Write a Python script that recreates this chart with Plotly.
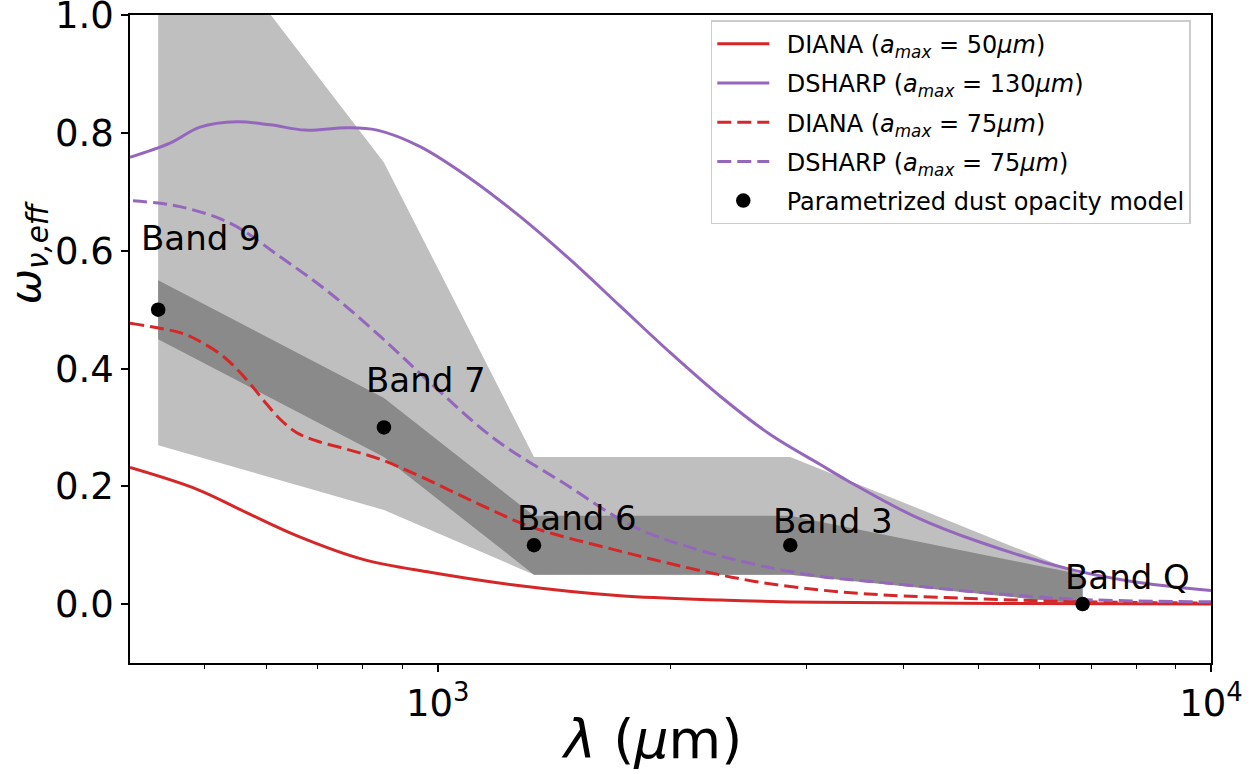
import math
import plotly.graph_objects as go

# ---------------- data ----------------
# DIANA, a_max = 50 um (solid red)
diana50_wl = [400, 488.4, 566.8, 658, 800.7, 977.7, 1278.5, 1721.9, 2319, 3124, 5341, 10000]
diana50_w = [0.232, 0.195, 0.155, 0.116, 0.076, 0.054, 0.031, 0.014, 0.007, 0.003, 0.001, 0.0]

# DSHARP, a_max = 130 um (solid purple)
dsharp130_wl = [400, 450.6, 492.8, 550.2, 607.2, 673.8, 763.5, 834.8, 948.8, 1101.5, 1278.5,
                1483.8, 1721.9, 1998.8, 2319, 2691.5, 3124, 3385, 4121, 5031, 6579, 7866, 10000]
dsharp130_w = [0.759, 0.783, 0.810, 0.819, 0.814, 0.805, 0.809, 0.805, 0.777, 0.723, 0.658,
               0.585, 0.506, 0.427, 0.353, 0.288, 0.237, 0.210, 0.150, 0.105, 0.059, 0.039, 0.023]

# DIANA, a_max = 75 um (dashed red)
diana75_wl = [400, 464.2, 488, 527.8, 566.2, 594.6, 625.5, 657.4, 697.7, 762.9, 842.3, 948.8,
              1134, 1328, 1686, 2102, 2559, 3124, 3735, 5031, 6778, 10000]
diana75_w = [0.477, 0.461, 0.449, 0.421, 0.381, 0.347, 0.314, 0.291, 0.277, 0.263, 0.246, 0.217,
             0.169, 0.130, 0.093, 0.062, 0.039, 0.024, 0.016, 0.009, 0.004, 0.002]

# DSHARP, a_max = 75 um (dashed purple)
dsharp75_wl = [403.6, 464.2, 538.8, 625.5, 725.8, 842.3, 977.7, 1186, 1453, 1789, 2102, 2559,
               3124, 3735, 5031, 6778, 10000]
dsharp75_w = [0.685, 0.675, 0.647, 0.590, 0.528, 0.455, 0.376, 0.280, 0.206, 0.132, 0.098, 0.068,
              0.047, 0.037, 0.020, 0.008, 0.004]

# Parametrized model at observed bands
band_names = ["Band 9", "Band 7", "Band 6", "Band 3", "Band Q"]
band_wl = [435, 852, 1332, 2857, 6823]
band_w = [0.5, 0.3, 0.1, 0.1, 0.0]
dark_lo = [0.45, 0.25, 0.05, 0.05, 0.0]
dark_hi = [0.55, 0.35, 0.15, 0.15, 0.05]
light_lo = [0.27, 0.16, 0.05, 0.05, 0.0]
light_hi = [1.25, 0.75, 0.25, 0.25, 0.05]
label_wl = [w * 0.955 for w in band_wl]
label_w = [0.622, 0.381, 0.146, 0.141, 0.046]

x_major = [1000, 10000]
x_major_text = ["10<sup>3</sup>", "10<sup>4</sup>"]
x_minor = [500, 600, 700, 800, 900, 2000, 3000, 4000, 5000, 6000, 7000, 8000, 9000]
y_ticks = [0.0, 0.2, 0.4, 0.6, 0.8, 1.0]

# ---------------- figure ----------------
RED = "#d62728"
PURPLE = "#9467bd"
FONT = "DejaVu Sans"
PAD = "\u00a0\u2009"

fig = go.Figure()

fig.add_trace(go.Scatter(
    x=band_wl + band_wl[::-1], y=light_hi + light_lo[::-1],
    fill="toself", fillcolor="#bfbfbf", line=dict(width=0), mode="lines",
    showlegend=False, hoverinfo="skip"))
fig.add_trace(go.Scatter(
    x=band_wl + band_wl[::-1], y=dark_hi + dark_lo[::-1],
    fill="toself", fillcolor="#8a8a8a", line=dict(width=0), mode="lines",
    showlegend=False, hoverinfo="skip"))

def line(x, y, name, color, dash, rank):
    fig.add_trace(go.Scatter(
        x=x, y=y, mode="lines", name=PAD + name, legendrank=rank, legendgroup=name,
        line=dict(color=color, width=3, dash=dash, shape="spline", smoothing=1.0)))

line(diana50_wl, diana50_w, "DIANA (<i>a</i><sub><i>max</i></sub> = 50<i>μm</i>)", RED, "solid", 1)
line(dsharp130_wl, dsharp130_w, "DSHARP (<i>a</i><sub><i>max</i></sub> = 130<i>μm</i>)", PURPLE, "solid", 2)
line(diana75_wl, diana75_w, "DIANA (<i>a</i><sub><i>max</i></sub> = 75<i>μm</i>)", RED, "14px,6px", 3)
line(dsharp75_wl, dsharp75_w, "DSHARP (<i>a</i><sub><i>max</i></sub> = 75<i>μm</i>)", PURPLE, "14px,6px", 4)

fig.add_trace(go.Scatter(
    x=band_wl, y=band_w, mode="markers", name=PAD + "Parametrized dust opacity model",
    legendrank=5, legendgroup="param",
    marker=dict(color="black", size=14.5, line=dict(width=0)), cliponaxis=False))

for n, xw, yw in zip(band_names, label_wl, label_w):
    fig.add_annotation(x=math.log10(xw), y=yw, xref="x", yref="y", text=n, showarrow=False,
                       xanchor="left", yanchor="middle", xshift=-4,
                       font=dict(family=FONT, size=34, color="black"))

# axis titles as annotations
fig.add_annotation(x=0.482, y=-0.118, xref="paper", yref="paper",
                   text="<i>λ</i> (<i>μ</i>m)", showarrow=False,
                   xanchor="center", yanchor="middle",
                   font=dict(family=FONT, size=54, color="black"))
fig.add_annotation(x=-0.094, y=0.633, xref="paper", yref="paper",
                   text="<i>ω</i><sub><i>ν,eff</i></sub>", showarrow=False, textangle=-90,
                   xanchor="center", yanchor="middle",
                   font=dict(family=FONT, size=42, color="black"))

axis_common = dict(showline=True, linecolor="black", linewidth=1.6, mirror=True,
                   showgrid=False, zeroline=False, ticks="outside", ticklen=7,
                   tickwidth=1.6, tickcolor="black", ticklabeloverflow="allow",
                   automargin=False,
                   tickfont=dict(family=FONT, size=37, color="black"))

fig.update_xaxes(type="log", range=[2.60206, 4.0], tickmode="array",
                 tickvals=x_major, ticktext=x_major_text,
                 minor=dict(tickmode="array", tickvals=x_minor, ticks="outside",
                            ticklen=4, tickwidth=1.2, tickcolor="black"),
                 **axis_common)
fig.update_yaxes(range=[-0.1, 1.0005], tickmode="array", tickvals=y_ticks,
                 tickformat=".1f", **axis_common)

fig.update_layout(
    width=1256, height=774,
    margin=dict(l=130, r=45, t=15, b=111),
    plot_bgcolor="white", paper_bgcolor="white",
    font=dict(family=FONT, color="black"),
    legend=dict(x=0.9813, y=0.992, xanchor="right", yanchor="top",
                bgcolor="white", bordercolor="#cccccc", borderwidth=1.5,
                font=dict(family=FONT, size=24, color="black"),
                traceorder="grouped", tracegroupgap=5, itemwidth=52),
)

fig.write_html("out.html", config={"displayModeBar": False},
               post_script="document.body.style.margin='0px';document.body.style.overflow='hidden';")
